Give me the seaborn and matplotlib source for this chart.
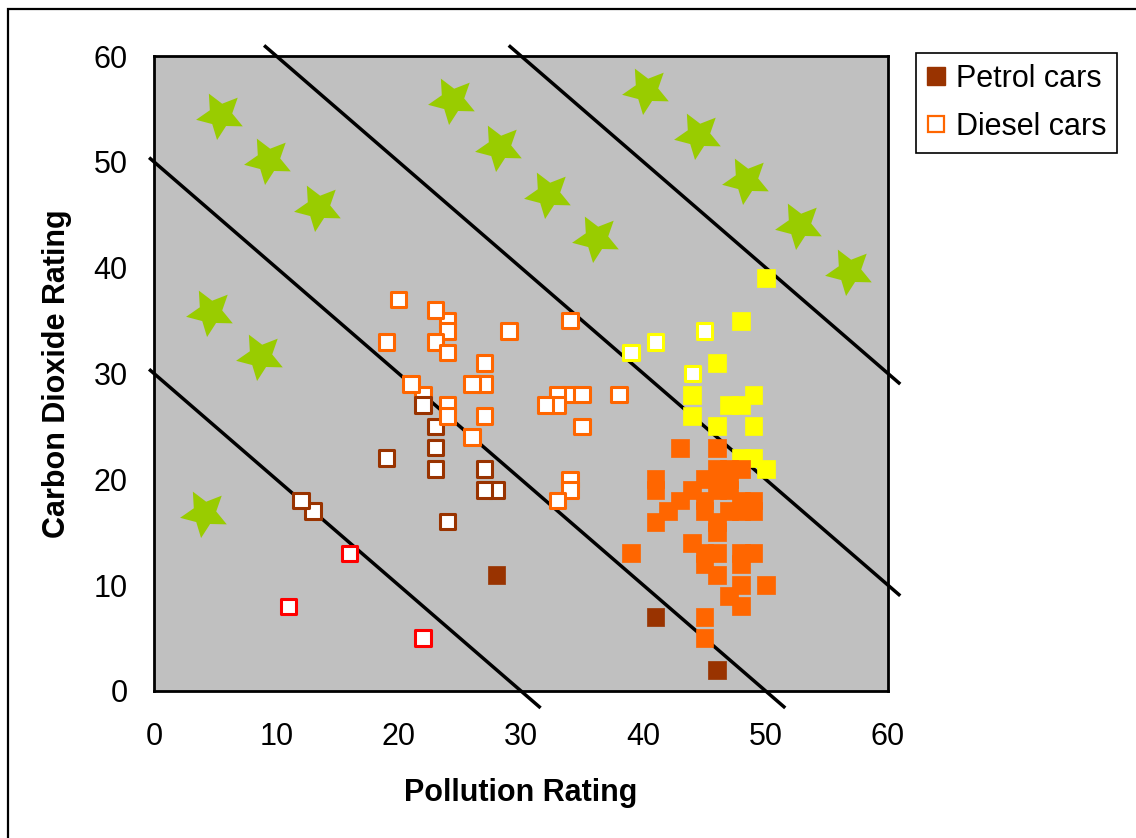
import numpy as np
import pandas as pd
import matplotlib
matplotlib.use("Agg")
import matplotlib.pyplot as plt
from matplotlib.path import Path
from matplotlib.markers import MarkerStyle
from matplotlib.lines import Line2D
from matplotlib.patches import Rectangle
import seaborn as sns

# ---------------- data ----------------
petrol_x = [50, 48, 46, 44, 44, 47, 48, 49, 46, 49, 48, 49, 50,
            43, 46, 46, 47, 48, 41, 41, 45, 46, 47, 44, 46, 47, 43, 45, 45, 42, 41,
            48, 49, 47, 48, 49, 46, 46, 44, 45, 46, 45, 48, 49, 48, 46, 48, 50, 47,
            48, 39, 45, 45,
            28, 41, 46]
petrol_y = [39, 35, 31, 28, 26, 27, 27, 28, 25, 25, 22, 22, 21,
            23, 23, 21, 21, 21, 20, 19, 20, 20, 20, 19, 19, 19, 18, 18, 17, 17, 16,
            18, 18, 17, 17, 17, 16, 15, 14, 13, 13, 12, 13, 13, 12, 11, 10, 10, 9,
            8, 13, 7, 5,
            11, 7, 2]

diesel_x = [11, 16, 22,
            13, 12, 19, 23, 23, 23, 24, 28, 27, 27,
            34, 35, 33, 33, 32, 27, 26, 24, 23, 24, 20, 19, 23, 24, 29, 27,
            24, 24, 22, 21, 22, 27, 26, 34, 35, 38, 34, 34, 33,
            39, 41, 44, 45]
diesel_y = [8, 13, 5,
            17, 18, 22, 25, 23, 21, 16, 19, 19, 21,
            28, 28, 28, 27, 27, 29, 29, 35, 36, 34, 37, 33, 33, 32, 34, 31,
            27, 26, 28, 29, 27, 26, 24, 35, 25, 28, 20, 19, 18,
            32, 33, 30, 34]

star_x = [5.4, 9.3, 13.4, 4.6, 8.7, 4.1, 24.4, 28.2, 32.2, 36.1, 40.2, 44.5, 48.4, 52.7, 56.8]
star_y = [54.4, 50.2, 45.7, 35.8, 31.7, 16.8, 55.8, 51.4, 47.0, 42.8, 56.8, 52.5, 48.3, 44.0, 39.7]

ref_lines = [30, 50, 70, 90]          # lines of constant Pollution + CO2 rating
band_edges = [30, 50, 70]
band_names = ["low", "mid", "high", "top"]
band_colors = ["#FF0000", "#993300", "#FF6600", "#FFFF00"]

ticks = [0, 10, 20, 30, 40, 50, 60]
x_label = "Pollution Rating"
y_label = "Carbon Dioxide Rating"
legend_labels = ["Petrol cars", "Diesel cars"]


def band_of(x, y):
    return band_names[int(np.searchsorted(band_edges, x + y, side="right"))]


petrol = pd.DataFrame({"x": petrol_x, "y": petrol_y})
petrol["band"] = [band_of(a, b) for a, b in zip(petrol_x, petrol_y)]
diesel = pd.DataFrame({"x": diesel_x, "y": diesel_y})
diesel["band"] = [band_of(a, b) for a, b in zip(diesel_x, diesel_y)]
palette = dict(zip(band_names, band_colors))

# ---------------- style ----------------
sns.set_style("white")
plt.rcParams["font.family"] = ["Liberation Sans", "DejaVu Sans"]
plt.rcParams["text.color"] = "black"
plt.rcParams["axes.labelcolor"] = "black"
plt.rcParams["xtick.color"] = "black"
plt.rcParams["ytick.color"] = "black"

W, H = 1136, 838
fig = plt.figure(figsize=(W / 100, H / 100), dpi=100)
ax = fig.add_axes([154 / W, 1 - 691 / H, (888 - 154) / W, (691 - 56) / H])
ax.set_facecolor("#C0C0C0")

# reference diagonal lines
for c in ref_lines:
    xs = np.array([max(-0.4, c - 61.0), min(61.0, c + 1.6)])
    ax.plot(xs, c - xs, color="black", lw=2.5, clip_on=False, zorder=2,
            solid_capstyle="butt")

# stars
ang = np.deg2rad(90 + 28 + 36 * np.arange(10))
rad = np.where(np.arange(10) % 2 == 0, 1.0, 0.48)
verts = np.column_stack([rad * np.cos(ang), rad * np.sin(ang)])
verts = np.vstack([verts, verts[:1]])
star_marker = MarkerStyle(Path(verts, closed=True))
sns.scatterplot(x=star_x, y=star_y, marker=star_marker, s=1250, color="#99CC00",
                linewidth=0, ax=ax, legend=False, zorder=3)

# petrol cars (filled squares)
sns.scatterplot(data=petrol, x="x", y="y", hue="band", palette=palette, marker="s",
                s=165, linewidth=0.5, ax=ax, legend=False, zorder=4)
coll = ax.collections[-1]
coll.set_edgecolors(coll.get_facecolors())

# diesel cars (hollow squares)
sns.scatterplot(data=diesel, x="x", y="y", hue="band", palette=palette, marker="s",
                s=125, linewidth=2.2, ax=ax, legend=False, zorder=5)
coll = ax.collections[-1]
coll.set_edgecolors(coll.get_facecolors())
coll.set_facecolor("white")

ax.set_xlim(0, 60)
ax.set_ylim(0, 60)
ax.set_xticks(ticks)
ax.set_yticks(ticks)
ax.tick_params(axis="both", length=0, labelsize=22, colors="black")
ax.tick_params(axis="x", pad=22)
ax.tick_params(axis="y", pad=19)
for sp in ax.spines.values():
    sp.set_visible(True)
    sp.set_color("black")
    sp.set_linewidth(2.0)
    sp.set_zorder(6)

ax.set_xlabel(x_label, fontsize=22, fontweight="bold", color="black")
ax.set_ylabel(y_label, fontsize=22, fontweight="bold", color="black")
ax.xaxis.label.set_va("center")
ax.yaxis.label.set_va("center")
ax.xaxis.set_label_coords(0.5, (691 - 793) / 635)
ax.yaxis.set_label_coords((57 - 154) / 734, 0.5)

handles = [
    Line2D([], [], ls="", marker="s", markersize=12.5, mfc=band_colors[1], mec=band_colors[1]),
    Line2D([], [], ls="", marker="s", markersize=11, mfc="white", mec=band_colors[2], mew=1.6),
]
leg = fig.legend(handles, legend_labels, loc="upper left",
                 bbox_to_anchor=(916 / W, 1 - 53 / H), fontsize=22, frameon=True,
                 fancybox=False, framealpha=1, edgecolor="black", borderpad=0.35,
                 handlelength=0.6, handletextpad=0.35, labelspacing=0.6,
                 borderaxespad=0)
leg.get_frame().set_linewidth(1.2)
for t in leg.get_texts():
    t.set_color("black")

fig.add_artist(Rectangle((8 / W, -0.1), 1.2, 1.1 - 9 / H, transform=fig.transFigure,
                         fill=False, lw=1.6, edgecolor="black"))

fig.savefig("out.png", dpi=100, facecolor="white")
